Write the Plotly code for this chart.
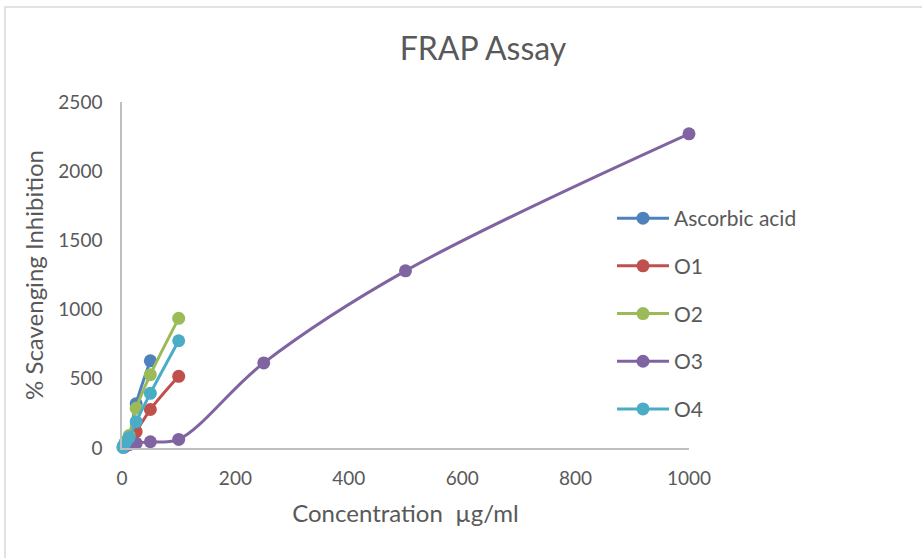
import plotly.graph_objects as go

# Data
asc_x = [3.125, 6.25, 12.5, 25, 50]
asc_y = [15, 40, 80, 320, 630]
o1_x = [3.125, 6.25, 12.5, 25, 50, 100]
o1_y = [10, 25, 45, 118, 278, 518]
o2_x = [3.125, 6.25, 12.5, 25, 50, 100]
o2_y = [20, 45, 90, 287, 530, 937]
o3_x = [3.125, 6.25, 12.5, 25, 50, 100, 250, 500, 1000]
o3_y = [5, 15, 25, 35, 45, 62, 615, 1280, 2270]
o4_x = [1.5625, 3.125, 6.25, 12.5, 25, 50, 100]
o4_y = [5, 20, 40, 75, 190, 395, 775]

series = [
    ("Ascorbic acid", asc_x, asc_y, "#4F81BD"),
    ("O1", o1_x, o1_y, "#C0504D"),
    ("O2", o2_x, o2_y, "#9BBB59"),
    ("O3", o3_x, o3_y, "#8064A2"),
    ("O4", o4_x, o4_y, "#4BACC6"),
]

FONT = "Lato"
GREY = "#595959"

fig = go.Figure()
for i, (name, xs, ys, col) in enumerate(series):
    fig.add_trace(go.Scatter(
        x=xs, y=ys, name=name, mode="lines+markers",
        line=dict(color=col, width=3, shape="spline", smoothing=1.0),
        marker=dict(color=col, size=13),
        cliponaxis=False, legendgroup=f"g{i}",
    ))

W, H = 922, 558
L, R, T, B = 122, W - 689, 102, H - 448
PW, PH = W - L - R, H - T - B

fig.update_layout(
    width=W, height=H,
    margin=dict(l=L, r=R, t=T, b=B),
    paper_bgcolor="white", plot_bgcolor="white",
    font=dict(family=FONT, color=GREY, size=16),
    title=dict(text="FRAP Assay", x=483 / W, xref="container", xanchor="center",
               y=1 - 49 / H, yref="container", yanchor="middle",
               font=dict(size=32, color=GREY, family=FONT)),
    showlegend=True,
    legend=dict(x=(612 - L) / PW, y=1 - (218 - 20 - T) / PH,
                xanchor="left", yanchor="top", font=dict(size=21, color=GREY),
                tracegroupgap=17.4, itemwidth=52, bgcolor="rgba(0,0,0,0)"),
    xaxis=dict(range=[0, 1000], tickvals=[0, 200, 400, 600, 800, 1000],
               showgrid=False, zeroline=False, showline=True,
               linecolor="#BFBFBF", linewidth=1.5, ticks="",
               tickfont=dict(size=19, color=GREY), ticklabelstandoff=12,
               title=dict(text="Concentration  µg/ml", font=dict(size=24, color=GREY),
                          standoff=18)),
    yaxis=dict(range=[0, 2500], tickvals=[0, 500, 1000, 1500, 2000, 2500],
               showgrid=False, zeroline=False, showline=True,
               linecolor="#BFBFBF", linewidth=1.5, ticks="",
               tickfont=dict(size=19, color=GREY), ticklabelstandoff=14,
               title=dict(text="% Scavenging Inhibition", font=dict(size=24, color=GREY),
                          standoff=8)),
    shapes=[dict(type="rect", xref="paper", yref="paper",
                 x0=(5 - L) / PW, x1=(W + 5 - L) / PW,
                 y0=1 + (T - H - 5) / PH, y1=1 + (T - 7) / PH,
                 line=dict(color="#D9D9D9", width=1.5), fillcolor="rgba(0,0,0,0)",
                 layer="below")],
)

fig.write_html("out.html")
